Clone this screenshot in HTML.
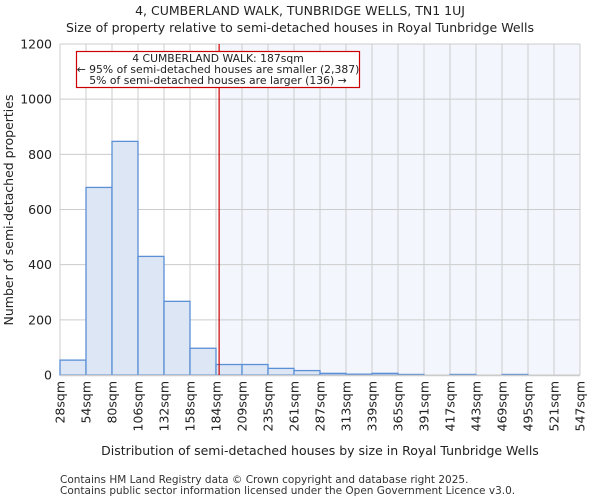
<!DOCTYPE html>
<html><head><meta charset="utf-8"><style>
body{margin:0;background:#fff;font-family:"DejaVu Sans","Liberation Sans",sans-serif;}
</style></head><body>
<svg id="chart" width="600" height="500" xmlns="http://www.w3.org/2000/svg" font-family="DejaVu Sans, Liberation Sans, sans-serif">
<text x="300" y="15" text-anchor="middle" font-size="12.5" fill="#222">4, CUMBERLAND WALK, TUNBRIDGE WELLS, TN1 1UJ</text>
<text x="300" y="32" text-anchor="middle" font-size="12.5" fill="#222">Size of property relative to semi-detached houses in Royal Tunbridge Wells</text>
<g id="plot"></g>
<text x="320" y="455" text-anchor="middle" font-size="12.5" fill="#222">Distribution of semi-detached houses by size in Royal Tunbridge Wells</text>
<text transform="translate(13,210) rotate(-90)" text-anchor="middle" font-size="12.5" fill="#222">Number of semi-detached properties</text>
<text x="60" y="483" font-size="10.5" fill="#333">Contains HM Land Registry data © Crown copyright and database right 2025.</text>
<text x="60" y="494" font-size="10.5" fill="#333">Contains public sector information licensed under the Open Government Licence v3.0.</text>
</svg>
<script>
const binLabels=["28sqm","54sqm","80sqm","106sqm","132sqm","158sqm","184sqm","209sqm","235sqm","261sqm","287sqm","313sqm","339sqm","365sqm","391sqm","417sqm","443sqm","469sqm","495sqm","521sqm","547sqm"];
const binEdges=[28,54,80,106,132,158,184,209,235,261,287,313,339,365,391,417,443,469,495,521,547];
const counts=[54,680,847,430,267,97,38,38,24,16,6,3,6,2,0,2,0,2,0,0];
const yTicks=[0,200,400,600,800,1000,1200];
const subjectSize=187;
const L=60,R=580,T=44,B=375,yMax=1200;
const NS="http://www.w3.org/2000/svg";
const g=document.getElementById('plot');
const nb=counts.length;
function xIdx(i){return L+(R-L)*i/nb;}
function xVal(v){let i=0;while(i<nb-1&&v>binEdges[i+1])i++;return xIdx(i)+(v-binEdges[i])/(binEdges[i+1]-binEdges[i])*(R-L)/nb;}
function y(v){return B-(B-T)*v/yMax;}
function el(t,a,p){const e=document.createElementNS(NS,t);for(const k in a)e.setAttribute(k,a[k]);(p||g).appendChild(e);return e;}
const sx=xVal(subjectSize);
const sh=el('rect',{x:sx,y:T,width:R-sx,height:B-T,fill:'#f3f6fd'});


yTicks.forEach(t=>{
 const ln=el('line',{x1:L,x2:R,y1:y(t),y2:y(t),stroke:'#ccc','stroke-width':1});
 
 
 const tx=el('text',{x:L-8,y:y(t)+4.5,'text-anchor':'end','font-size':12.5,fill:'#222'});
 tx.textContent=t;
 
 
});
binLabels.forEach((lab,i)=>{
 const x=xIdx(i);
 const ln=el('line',{x1:x,x2:x,y1:T,y2:B,stroke:'#ccc','stroke-width':1});
 
 
 const tx=el('text',{x:0,y:0,'text-anchor':'end','font-size':12.5,fill:'#222',transform:`translate(${x+4.5},${B+6}) rotate(-90)`});
 tx.textContent=lab;
 
 
});
counts.forEach((c,i)=>{
 if(c<=0)return;
 const r=el('rect',{x:xIdx(i),y:y(c),width:(R-L)/nb,height:B-y(c),fill:'#dce6f4',stroke:'#5b8fd6','stroke-width':1.3});
 
 
});
const ax=el('line',{x1:L,x2:R,y1:B+0.5,y2:B+0.5,stroke:'#ccc','stroke-width':1.5});


const ml=el('line',{x1:sx,x2:sx,y1:T,y2:B,stroke:'#c00','stroke-width':1.2});


const box=el('rect',{x:76.5,y:51.5,width:283,height:36,fill:'#fff',stroke:'#c00','stroke-width':1.2});


[["4 CUMBERLAND WALK: 187sqm",62],["← 95% of semi-detached houses are smaller (2,387)",73],["5% of semi-detached houses are larger (136) →",84]].forEach(([s,yy])=>{
 const t=el('text',{x:218,y:yy,'text-anchor':'middle','font-size':10.8,fill:'#222'});
 t.textContent=s;
 
 
});
</script>
</body></html>
